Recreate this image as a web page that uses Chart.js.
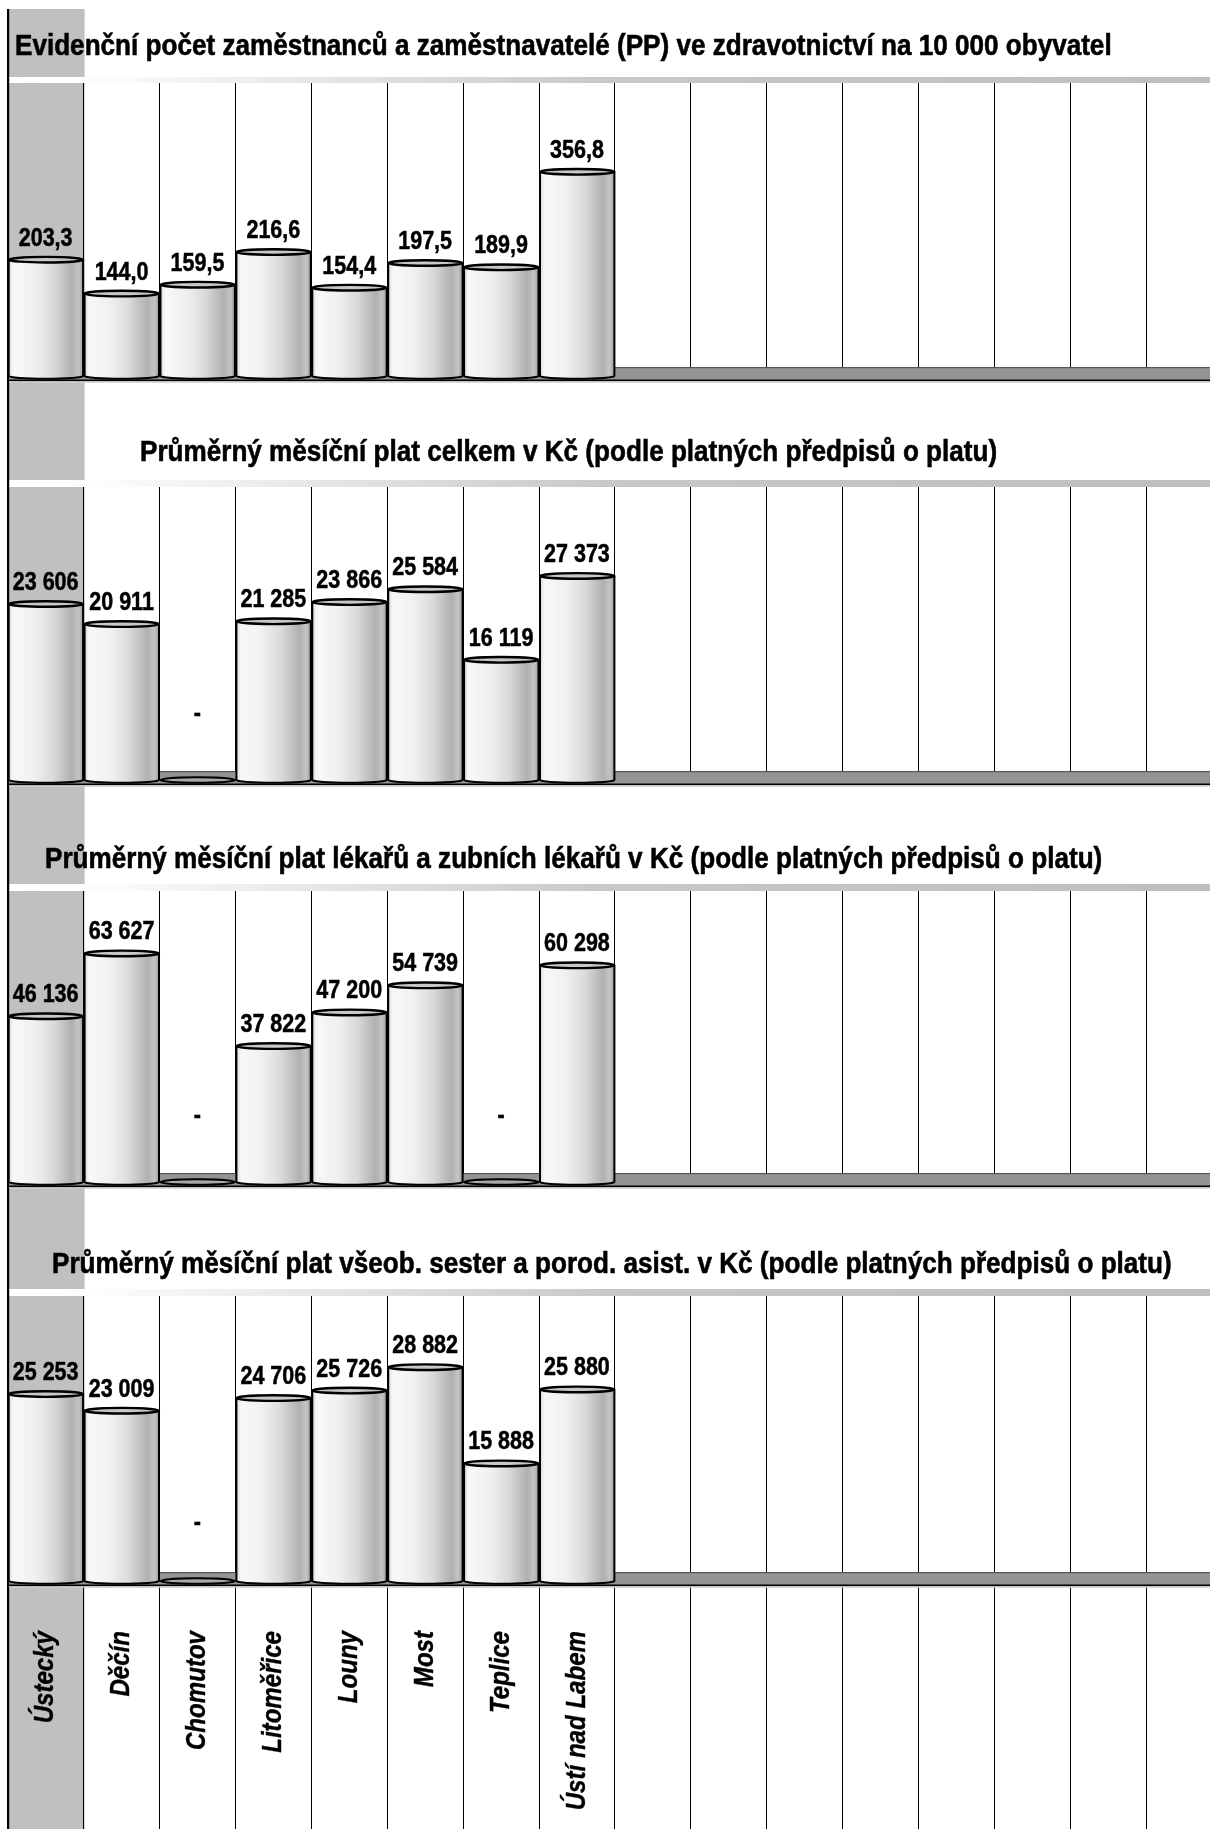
<!DOCTYPE html>
<html lang="cs">
<head>
<meta charset="utf-8">
<title>Zdravotnictví v okresech Ústeckého kraje</title>
<script src="https://cdn.jsdelivr.net/npm/chart.js@4.4.1/dist/chart.umd.min.js"></script>
<style>
  html, body { margin: 0; padding: 0; background: #fff; overflow: hidden; }
  #wrap { position: relative; width: 1210px; height: 1829px; overflow: hidden; background: #fff; }
  #wrap canvas { position: absolute; left: 0; }
</style>
</head>
<body>
<div id="wrap">
  <canvas id="c1" width="1223" height="386" style="top:0px"></canvas>
  <canvas id="c2" width="1223" height="404" style="top:386px"></canvas>
  <canvas id="c3" width="1223" height="404" style="top:790px"></canvas>
  <canvas id="c4" width="1223" height="635" style="top:1194px"></canvas>
</div>
<script>
const categories = ["Ústecký", "Děčín", "Chomutov", "Litoměřice", "Louny", "Most", "Teplice", "Ústí nad Labem"];
const emptyColumns = ["", "", "", "", "", "", "", ""];

// "-" v tabulce = údaj není k dispozici -> null
const pocetNa10000 = [203.3, 144.0, 159.5, 216.6, 154.4, 197.5, 189.9, 356.8];
const platCelkem = [23606, 20911, null, 21285, 23866, 25584, 16119, 27373];
const platLekaru = [46136, 63627, null, 37822, 47200, 54739, null, 60298];
const platSester = [25253, 23009, null, 24706, 25726, 28882, 15888, 25880];

const titles = [
  "Evidenční počet zaměstnanců a zaměstnavatelé (PP) ve zdravotnictví na 10 000 obyvatel",
  "Průměrný měsíční plat celkem v Kč (podle platných předpisů o platu)",
  "Průměrný měsíční plat lékařů a zubních lékařů v Kč (podle platných předpisů o platu)",
  "Průměrný měsíční plat všeob. sester a porod. asist. v Kč (podle platných předpisů o platu)"
];

const FONT = '"Liberation Sans", Arial, sans-serif';

const fmt = (v, dec) => {
  if (v === null) return "-";
  if (dec) return v.toFixed(dec).replace(".", ",");
  return String(v).replace(/\B(?=(\d{3})+(?!\d))/g, " ");
};

// písmo v originále je zúžené a hodně tučné
function squeezed(ctx, text, x, y, align, sx, stroke, angle) {
  ctx.save();
  ctx.translate(x, y);
  if (angle) ctx.rotate(angle);
  ctx.scale(sx, 1);
  ctx.textAlign = align;
  ctx.fillText(text, 0, 0);
  if (stroke) {
    ctx.lineWidth = stroke;
    ctx.strokeStyle = ctx.fillStyle;
    ctx.strokeText(text, 0, 0);
  }
  ctx.restore();
}

function cylinder(ctx, x, w, top, base) {
  const l = x - w / 2 + 1, r = x + w / 2 - 0.5;
  const cx = (l + r) / 2, rx = (r - l) / 2, ry = 2.8;
  const g = ctx.createLinearGradient(l, 0, r, 0);
  g.addColorStop(0, "#d8d8d8");
  g.addColorStop(0.06, "#f8f8f8");
  g.addColorStop(0.35, "#f0f0f0");
  g.addColorStop(0.6, "#dadada");
  g.addColorStop(0.85, "#b0b0b0");
  g.addColorStop(0.94, "#c4c4c4");
  g.addColorStop(1, "#9c9c9c");
  ctx.fillStyle = g;
  ctx.fillRect(l, top, r - l, base - top);
  ctx.beginPath();
  ctx.ellipse(cx, base, rx, ry, 0, 0, Math.PI);
  ctx.fill();

  ctx.strokeStyle = "#000";
  ctx.lineWidth = 2;
  ctx.beginPath();
  ctx.moveTo(l, top);
  ctx.lineTo(l, base);
  ctx.ellipse(cx, base, rx, ry, 0, Math.PI, 0, true);
  ctx.lineTo(r, top);
  ctx.stroke();

  ctx.beginPath();
  ctx.ellipse(cx, top, rx, ry, 0, 0, Math.PI * 2);
  ctx.fillStyle = "#c8c8c8";
  ctx.fill();
  ctx.lineWidth = 2.4;
  ctx.stroke();
}

const panelPlugin = {
  id: "panel",
  beforeDraw(chart, args, o) {
    const { ctx, width, height, chartArea: a } = chart;
    const cat = (a.right - a.left) / chart.scales.x.ticks.length;
    ctx.save();
    ctx.fillStyle = "#fff";
    ctx.fillRect(0, 0, width, height);
    // šedý sloupec pro kraj
    ctx.fillStyle = "#c0c0c0";
    ctx.fillRect(a.left + 1.3, o.colTop, cat - 0.3, height - o.colTop);
    // linka pod nadpisem
    const g = ctx.createLinearGradient(9, 0, 1210, 0);
    g.addColorStop(0, "#ffffff");
    g.addColorStop(0.08, "#fcfcfc");
    g.addColorStop(0.5, "#c8c8c8");
    g.addColorStop(1, "#bebebe");
    ctx.fillStyle = g;
    ctx.fillRect(9, o.lineTop, width, a.top - o.lineTop);
    ctx.fillStyle = "#000";
    ctx.fillRect(7, o.colTop, 2.2, height - o.colTop);
    ctx.font = "bold 30px " + FONT;
    ctx.textBaseline = "alphabetic";
    squeezed(ctx, o.title, o.titleX, o.titleY, "left", 0.87, 0.6);
    ctx.restore();
  },
  afterDraw(chart, args, o) {
    if (!o.labelEnd) return;
    // popisky okresů pod posledním grafem, svisle
    const { ctx } = chart;
    const xs = chart.scales.x;
    ctx.save();
    ctx.fillStyle = "#000";
    ctx.font = "italic bold 28px " + FONT;
    ctx.textBaseline = "middle";
    chart.data.labels.forEach((lab, i) => {
      if (!lab) return;
      squeezed(ctx, lab, xs.getPixelForTick(i), o.labelEnd, "right", 0.86, 0.4, -Math.PI / 2);
    });
    ctx.restore();
  },
  afterDatasetsDraw(chart, args, o) {
    const { ctx, width } = chart;
    const b = chart.scales.y.getPixelForValue(0);
    ctx.save();
    // podlaha
    ctx.fillStyle = "#949494";
    ctx.fillRect(9, b - 9, width, 13);
    ctx.fillStyle = "#555";
    ctx.fillRect(9, b - 9, width, 1.2);
    ctx.fillStyle = "#000";
    ctx.fillRect(9, b + 3.5, width, 1.8);
    ctx.fillStyle = "#cfcfcf";
    ctx.fillRect(9, b + 5.3, width, 1.5);

    const meta = chart.getDatasetMeta(0);
    meta.data.forEach((el, i) => {
      const v = o.values[i];
      if (v === null) {
        ctx.beginPath();
        ctx.ellipse(el.x + 0.25, b, el.width / 2 - 0.75, 2.8, 0, 0, Math.PI * 2);
        ctx.fillStyle = "#a8a8a8";
        ctx.fill();
        ctx.strokeStyle = "#000";
        ctx.lineWidth = 2;
        ctx.stroke();
      } else {
        cylinder(ctx, el.x, el.width, el.y, el.base);
      }
    });

    ctx.fillStyle = "#000";
    ctx.font = "bold 25px " + FONT;
    ctx.textBaseline = "alphabetic";
    meta.data.forEach((el, i) => {
      const v = o.values[i];
      if (v === null) squeezed(ctx, "-", el.x, b - o.dash + 7, "center", 0.86, 0.5);
      else squeezed(ctx, fmt(v, o.decimals), el.x, el.y - 14, "center", 0.86, 0.5);
    });
    ctx.restore();
  }
};

function makeChart(id, values, max, panel, last) {
  const canvas = document.getElementById(id);
  const h = canvas.height;
  const axisH = last ? h - panel.base : 0;
  return new Chart(canvas, {
    type: "bar",
    data: {
      labels: categories.concat(emptyColumns),
      datasets: [{
        data: values.map(v => v === null ? 0 : v),
        backgroundColor: "rgba(0,0,0,0)",
        borderWidth: 0,
        categoryPercentage: 1,
        barPercentage: 1
      }]
    },
    options: {
      responsive: false,
      animation: false,
      events: [],
      layout: { padding: { left: 7.7, right: 0.9, top: panel.plotTop, bottom: h - panel.base - axisH } },
      plugins: {
        legend: { display: false },
        tooltip: { enabled: false },
        title: { display: false },
        panel: { ...panel, values }
      },
      scales: {
        x: {
          offset: true,
          border: { display: false },
          grid: {
            offset: true,
            color: "#000",
            lineWidth: 1,
            drawTicks: !!last,
            tickLength: axisH
          },
          ticks: { display: false, autoSkip: false },
          afterFit: s => { s.height = axisH; }
        },
        y: { display: false, min: 0, max }
      }
    },
    plugins: [panelPlugin]
  });
}

makeChart("c1", pocetNa10000, 512,
  { title: titles[0], titleX: 15, titleY: 55, colTop: 9, lineTop: 77, plotTop: 83, base: 376, decimals: 1, dash: 66 });
makeChart("c2", platCelkem, 39300,
  { title: titles[1], titleX: 140, titleY: 75, colTop: 0, lineTop: 94, plotTop: 101, base: 394, decimals: 0, dash: 66 });
makeChart("c3", platLekaru, 81000,
  { title: titles[2], titleX: 45, titleY: 78, colTop: 0, lineTop: 94, plotTop: 101, base: 392, decimals: 0, dash: 66 });
makeChart("c4", platSester, 38500,
  { title: titles[3], titleX: 52, titleY: 79, colTop: 0, lineTop: 95, plotTop: 102, base: 387, labelEnd: 437, decimals: 0, dash: 58 }, true);
</script>
</body>
</html>
